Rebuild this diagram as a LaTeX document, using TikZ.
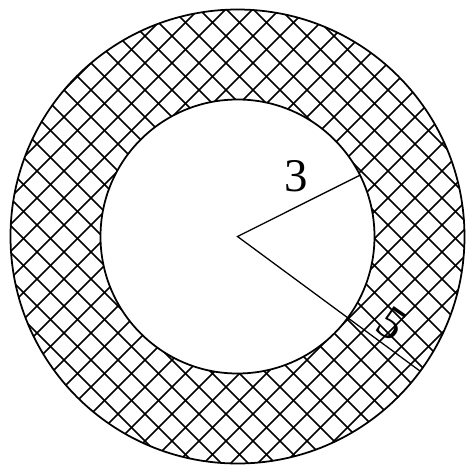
\documentclass[tikz,border=0pt]{standalone}
\usepackage{fontspec}
\setmainfont{Liberation Serif}
\usetikzlibrary{calc}
\def\outerradius{227}
\def\innerradius{137}
\def\hatchstep{27}

\begin{document}
\begin{tikzpicture}[x=0.03cm,y=-0.03cm,
    ring/.style={line width=1.5pt},
    hatch/.style={line width=1.3pt},
    radius line/.style={line width=1.1pt},
    lbl/.style={font=\fontsize{40}{40}\selectfont,inner sep=0pt}]
  \useasboundingbox (0,0) rectangle (470,467);
  \coordinate (O) at (237.5,236.5);

  % cross hatch in the ring
  \begin{scope}[even odd rule]
    \clip (O) circle (\outerradius) (O) circle (\innerradius);
    \foreach \k in {-20,...,20} {
      \draw[hatch] ($ (O) + (\k*\hatchstep,0) + (-300,-300) $) -- ++(600,600);
      \draw[hatch] ($ (O) + (\k*\hatchstep+4,0) + (-300,300) $) -- ++(600,-600);
    }
  \end{scope}

  \draw[ring] (O) circle (\outerradius);
  \draw[ring] (O) circle (\innerradius);

  \coordinate (A) at ($ (O) + (-26.6:\innerradius) $);
  \coordinate (B) at ($ (O) + (36.4:\outerradius) $);
  \draw[radius line] (A) -- (O) -- (B);

  \node[lbl] (three) at (296,176) {3};
  \node[lbl,rotate=-35] (five) at (392,324) {5};
\end{tikzpicture}
\end{document}
